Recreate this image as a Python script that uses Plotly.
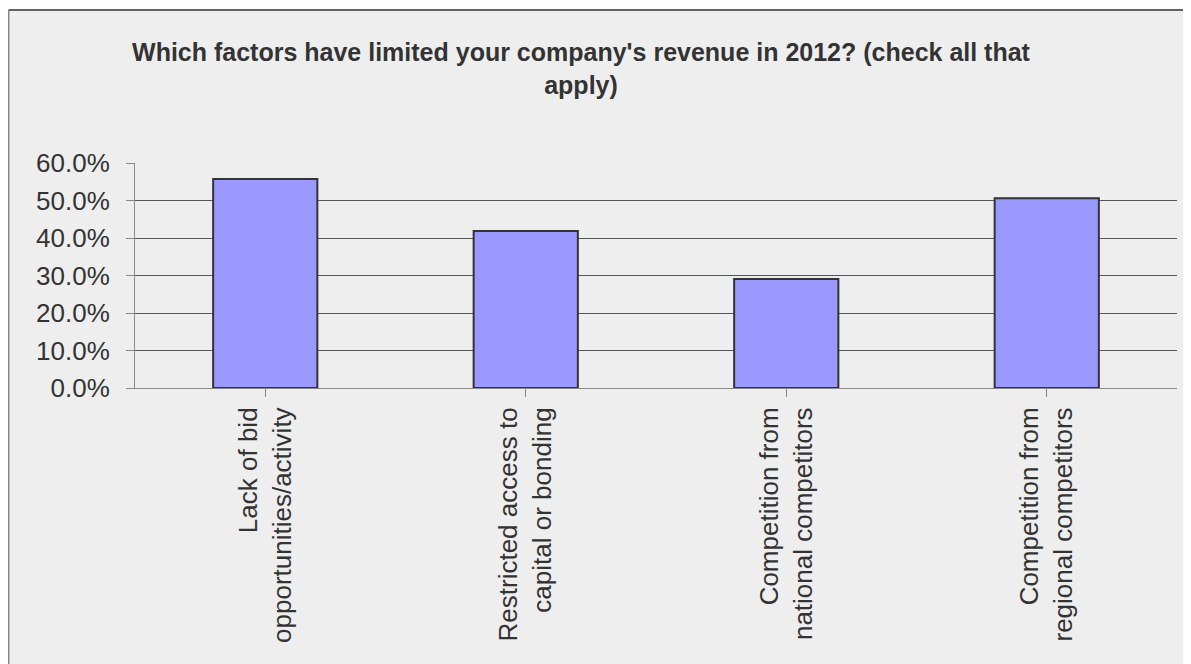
import plotly.graph_objects as go

categories = [
    "Lack of bid<br>opportunities/activity",
    "Restricted access to<br>capital or bonding",
    "Competition from<br>national competitors",
    "Competition from<br>regional competitors",
]
values = [0.557, 0.419, 0.291, 0.506]
title_text = "Which factors have limited your company's revenue in 2012? (check all that<br>apply)"

# the page body adds an 8px margin, so the figure is sized to the visible area
W, H = 1183, 656
ml, mr, mt, mb = 127, 14, 155, 276
pw, ph = W - ml - mr, H - mt - mb

def px_x(p):
    return (p - ml) / pw

def px_y(p):
    return (H - mb - p) / ph

fig = go.Figure()
fig.add_trace(go.Bar(
    x=list(range(len(categories))),
    y=values,
    marker=dict(color="#9999ff", line=dict(color="#333333", width=2)),
    width=0.4,
    hoverinfo="skip",
))

shapes = [
    dict(type="rect", xref="paper", yref="paper", x0=px_x(-5), x1=px_x(W + 5), y0=px_y(1.5), y1=px_y(-5),
         fillcolor="white", line=dict(width=0), layer="below"),
    dict(type="line", xref="paper", yref="paper", x0=px_x(0.5), x1=px_x(W + 5), y0=px_y(2), y1=px_y(2),
         line=dict(color="#333333", width=1.5), layer="below"),
    dict(type="line", xref="paper", yref="paper", x0=px_x(0.75), x1=px_x(0.75), y0=px_y(2), y1=px_y(H + 5),
         line=dict(color="#888888", width=1.5), layer="below"),
]

fig.update_layout(
    width=W, height=H,
    margin=dict(l=ml, r=mr, t=mt, b=mb, autoexpand=False),
    paper_bgcolor="#eeeeee",
    plot_bgcolor="#eeeeee",
    showlegend=False,
    shapes=shapes,
    title=dict(
        text=title_text,
        x=573 / W, xanchor="center", xref="container",
        y=1 - 53 / H, yanchor="top", yref="container",
        font=dict(family="Liberation Sans Narrow, Arial Narrow, Liberation Sans", size=25, color="#333333", weight="bold"),
    ),
    font=dict(family="Liberation Sans, Arial", color="#333333"),
)
fig.update_xaxes(
    tickmode="array",
    tickvals=list(range(len(categories))),
    ticktext=categories,
    tickangle=-90,
    tickson="boundaries",
    ticks="outside", ticklen=8, tickcolor="#888888",
    showline=True, linecolor="#888888", linewidth=1,
    showgrid=False,
    range=[-0.5, 3.5],
    tickfont=dict(size=26, color="#333333"),
    zeroline=False,
)
fig.update_yaxes(
    range=[0, 0.6],
    dtick=0.1,
    tickformat=".1%",
    ticks="outside", ticklen=8, tickcolor="#888888",
    ticklabelstandoff=11,
    showline=True, linecolor="#888888", linewidth=1,
    showgrid=True, gridcolor="#555555", gridwidth=1,
    zeroline=False,
    tickfont=dict(size=26, color="#333333"),
)

fig.write_html("out.html")
